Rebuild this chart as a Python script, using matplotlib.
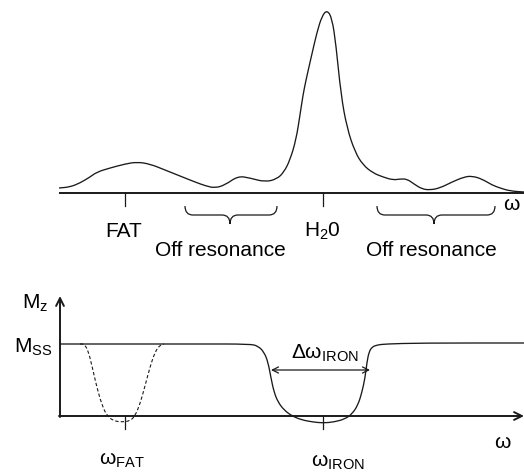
import matplotlib
matplotlib.use('Agg')
import matplotlib.pyplot as plt
from matplotlib.path import Path
from matplotlib.patches import PathPatch
import numpy as np

# Schematic drawn in image coordinates (x right, y down)

# top panel: spectrum
specX = [59, 70, 80, 90, 97, 110, 125, 137, 150, 165, 180, 195, 206, 215, 225, 238, 250,
         265, 277, 284, 290, 296, 300, 303, 306, 311, 317, 322, 327, 332, 336, 341, 347,
         355, 363, 373, 383, 393, 400, 407, 414, 422, 430, 440, 452, 464, 472, 482, 492,
         500, 510, 524]
specY = [188, 187, 183, 177, 172, 168, 164, 162, 164, 170, 176, 182, 186, 188, 185, 176, 178,
         182, 179, 172, 160, 140, 115, 95, 80, 58, 32, 16, 10, 18, 45, 95, 128,
         152, 165, 173, 177, 180, 179, 179, 184, 189, 190, 188, 182, 177, 176, 179, 185,
         188, 191, 192]
specTicks = [125, 323]
specLabels = ['FAT', 'H$_2$0']
braces = [(185, 277, 230), (377, 495, 434)]
braceLabel = 'Off resonance'

# bottom panel: saturation profiles
ironX = [60, 200, 250, 258, 264, 268, 271, 274, 278, 284, 292, 302, 313, 323, 334, 345,
         352, 358, 362, 365, 367, 369, 372, 377, 385, 420, 524]
ironY = [344, 344, 344, 346, 352, 362, 378, 392, 402, 410, 416, 420, 422, 423, 422, 419,
         414, 405, 392, 378, 362, 352, 347, 345, 344, 343, 343]
fatX = [80, 84, 88, 92, 97, 102, 107, 114, 122, 130, 135, 140, 145, 150, 155, 160, 164]
fatY = [344, 344, 350, 366, 388, 405, 416, 421, 422, 421, 416, 404, 386, 367, 352, 345, 344]
satTicks = [125, 323]
satTickLabels = ['$\\omega_{FAT}$', '$\\omega_{IRON}$']

plt.rcParams['font.family'] = ['Liberation Sans', 'DejaVu Sans']
plt.rcParams['mathtext.default'] = 'regular'

fig = plt.figure(figsize=(5.24, 4.74), dpi=100, facecolor='white')
ax = fig.add_axes([0, 0, 1, 1])
ax.set_xlim(0, 524)
ax.set_ylim(474, 0)
ax.axis('off')

lineCol = '#1a1a1a'
fontSize = 15


def smoothPath(xs, ys):
	pts = list(zip(xs, ys))
	verts = [pts[0], ((pts[0][0] + pts[1][0]) / 2.0, (pts[0][1] + pts[1][1]) / 2.0)]
	codes = [Path.MOVETO, Path.LINETO]
	for i in range(1, len(pts) - 1):
		mid = ((pts[i][0] + pts[i + 1][0]) / 2.0, (pts[i][1] + pts[i + 1][1]) / 2.0)
		verts += [pts[i], mid]
		codes += [Path.CURVE3, Path.CURVE3]
	verts.append(pts[-1])
	codes.append(Path.LINETO)
	return Path(verts, codes)


def bracePath(x0, x1, xc, top=206, bot=215, tip=224):
	verts = [(x0, top), (x0, bot), (x0 + 8, bot), (xc - 8, bot), (xc, bot), (xc, tip),
			 (xc, bot), (xc + 8, bot), (x1 - 8, bot), (x1, bot), (x1, top)]
	codes = [Path.MOVETO, Path.CURVE3, Path.CURVE3, Path.LINETO, Path.CURVE3, Path.CURVE3,
			 Path.CURVE3, Path.CURVE3, Path.LINETO, Path.CURVE3, Path.CURVE3]
	return Path(verts, codes)


# ---- top panel ----
ax.plot([59, 524], [192.5, 192.5], color=lineCol, lw=1.4, solid_capstyle='butt')
ax.add_patch(PathPatch(smoothPath(specX, specY), fill=False, edgecolor=lineCol, lw=0.95))
for x in specTicks:
	ax.plot([x, x], [193, 206], color=lineCol, lw=0.9)
for (x0, x1, xc) in braces:
	ax.add_patch(PathPatch(bracePath(x0, x1, xc), fill=False, edgecolor=lineCol, lw=0.9))

ax.text(124, 231, specLabels[0], fontsize=fontSize, ha='center', va='center')
ax.text(322, 231, specLabels[1], fontsize=fontSize, ha='center', va='center')
ax.text(220, 250, braceLabel, fontsize=fontSize, ha='center', va='center')
ax.text(431, 250, braceLabel, fontsize=fontSize, ha='center', va='center')
ax.text(511, 205, '\u03c9', fontsize=fontSize, ha='center', va='center')

# ---- bottom panel ----
ax.annotate('', xy=(60, 296), xytext=(60, 417),
			arrowprops=dict(arrowstyle='->', color=lineCol, lw=1.4, shrinkA=0, shrinkB=0,
							mutation_scale=14))
ax.annotate('', xy=(524, 416), xytext=(59, 416),
			arrowprops=dict(arrowstyle='->', color=lineCol, lw=1.4, shrinkA=0, shrinkB=0,
							mutation_scale=14))
ax.add_patch(PathPatch(smoothPath(ironX, ironY), fill=False, edgecolor=lineCol, lw=0.95))
ax.add_patch(PathPatch(smoothPath(fatX, fatY), fill=False, edgecolor=lineCol, lw=0.8,
					   linestyle=(0, (3, 2))))
for x in satTicks:
	ax.plot([x, x], [416, 429], color=lineCol, lw=0.9)
ax.annotate('', xy=(271, 370), xytext=(370, 370),
			arrowprops=dict(arrowstyle='<->', color=lineCol, lw=0.9, shrinkA=0, shrinkB=0,
							mutation_scale=11))

ax.text(22, 303, '$M_z$', fontsize=fontSize, ha='left', va='center')
ax.text(14, 347, '$M_{SS}$', fontsize=fontSize, ha='left', va='center')
ax.text(325, 353, '$\u0394\\omega_{IRON}$', fontsize=fontSize, ha='center', va='center')
ax.text(502, 442, '\u03c9', fontsize=fontSize, ha='center', va='center')
ax.text(122, 460, satTickLabels[0], fontsize=fontSize, ha='center', va='center')
ax.text(338, 462, satTickLabels[1], fontsize=fontSize, ha='center', va='center')

fig.savefig('out.png', dpi=100, facecolor='white')
